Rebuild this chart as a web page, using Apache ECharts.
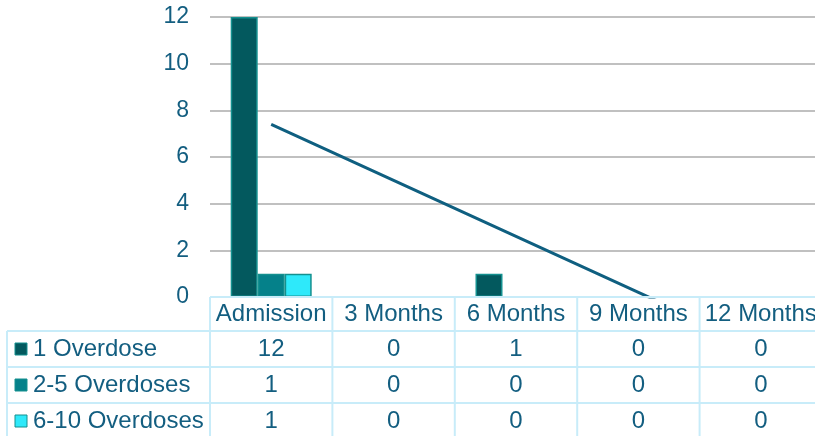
<!DOCTYPE html>
<html>
<head>
<meta charset="utf-8">
<script src="https://cdn.jsdelivr.net/npm/echarts@6/dist/echarts.min.js"></script>
<style>
html, body { margin: 0; padding: 0; background: #fff; }
#chart { width: 815px; height: 436px; }
</style>
</head>
<body>
<div id="chart"></div>
<script>
'use strict';

var categories = ['Admission', '3 Months', '6 Months', '9 Months', '12 Months'];
var seriesNames = ['1 Overdose', '2-5 Overdoses', '6-10 Overdoses'];
var oneOverdose = [12, 0, 1, 0, 0];
var twoToFive = [1, 0, 0, 0, 0];
var sixToTen = [1, 0, 0, 0, 0];
var trendValues = [7.4, 5.0, 2.6, 0.2, -2.2];   // linear trend

var colors = ['#03595e', '#05818a', '#2ee9fa'];
var textColor = '#135e80';
var tableLine = '#c8ecf9';
var fontFamily = '"Liberation Sans", Arial, sans-serif';

var rows = [oneOverdose, twoToFive, sixToTen];

var my_chart = echarts.init(document.getElementById('chart'));

function barData(arr) {
    // zero bars are not drawn in the picture
    return arr.map(function (v) { return v === 0 ? null : v; });
}

var series_arr = [];
for (var i = 0; i < rows.length; i++) {
    series_arr.push({
        name: seriesNames[i],
        type: 'bar',
        barWidth: 27,
        barGap: '0%',
        itemStyle: { color: colors[i], borderColor: '#14908f', borderWidth: 1.5 },
        data: barData(rows[i])
    });
}
series_arr.push({
    name: 'Trend',
    type: 'line',
    showSymbol: false,
    symbol: 'none',
    clip: true,
    z: 5,
    lineStyle: { color: '#0f5f80', width: 3 },
    data: trendValues
});

my_chart.setOption({
    animation: false,
    textStyle: { fontFamily: fontFamily },
    grid: { left: 210, width: 612, top: 17, bottom: 139, outerBoundsMode: 'none', containLabel: false },
    xAxis: {
        type: 'category',
        data: categories,
        axisLine: { show: false },
        axisTick: { show: false },
        axisLabel: {
            color: textColor,
            fontSize: 24,
            fontFamily: fontFamily,
            margin: 0,
            lineHeight: 34,
            verticalAlign: 'top',
            interval: 0
        }
    },
    yAxis: {
        type: 'value',
        min: 0,
        max: 12,
        interval: 2,
        axisLine: { show: false },
        axisTick: { show: false },
        axisLabel: { color: textColor, fontSize: 23, margin: 21, fontFamily: fontFamily },
        splitLine: { lineStyle: { color: '#ababab', width: 1.5 } }
    },
    series: series_arr
});

// data table under the plot, placed from the axis scales
function toPx(finder, v) {
    var p = my_chart.convertToPixel(finder, v);
    return Array.isArray(p) ? p[0] : p;
}

function drawTable() {
    var centers = [];
    for (var i = 0; i < categories.length; i++) {
        centers.push(toPx({ xAxisIndex: 0 }, categories[i]));
    }
    var colW = centers[1] - centers[0];
    var left = centers[0] - colW / 2;
    var right = centers[centers.length - 1] + colW / 2;
    var top = toPx({ yAxisIndex: 0 }, 0);
    var headerH = 34;
    var rowH = 36;
    var tableLeft = 7;
    var elems = [];

    function line(x1, y1, x2, y2) {
        elems.push({
            type: 'line', z: 10, silent: true,
            shape: { x1: x1, y1: y1, x2: x2, y2: y2 },
            style: { stroke: tableLine, lineWidth: 2 }
        });
    }

    var bottom = top + headerH + rowH * rows.length;
    line(left, top, right, top);
    for (var r = 0; r <= rows.length; r++) {
        var y = top + headerH + rowH * r;
        line(tableLeft, y, right, y);
    }
    line(tableLeft, top + headerH, tableLeft, bottom);
    for (var c = 0; c <= categories.length; c++) {
        var x = left + colW * c;
        line(x, top, x, bottom);
    }

    for (var r = 0; r < rows.length; r++) {
        var cy = top + headerH + rowH * r + rowH / 2;
        elems.push({
            type: 'rect', z: 11, silent: true,
            shape: { x: 15, y: cy - 6, width: 12, height: 12 },
            style: { fill: colors[r], stroke: '#14908f', lineWidth: 1 }
        });
        elems.push({
            type: 'text', z: 11, silent: true,
            x: 33, y: cy,
            style: {
                text: seriesNames[r], fill: textColor, fontSize: 24,
                fontFamily: fontFamily, verticalAlign: 'middle', align: 'left'
            }
        });
        for (var c = 0; c < categories.length; c++) {
            elems.push({
                type: 'text', z: 11, silent: true,
                x: centers[c], y: cy,
                style: {
                    text: String(rows[r][c]), fill: textColor, fontSize: 24,
                    fontFamily: fontFamily, verticalAlign: 'middle', align: 'center'
                }
            });
        }
    }
    my_chart.setOption({ graphic: elems });
}

drawTable();
</script>
</body>
</html>
